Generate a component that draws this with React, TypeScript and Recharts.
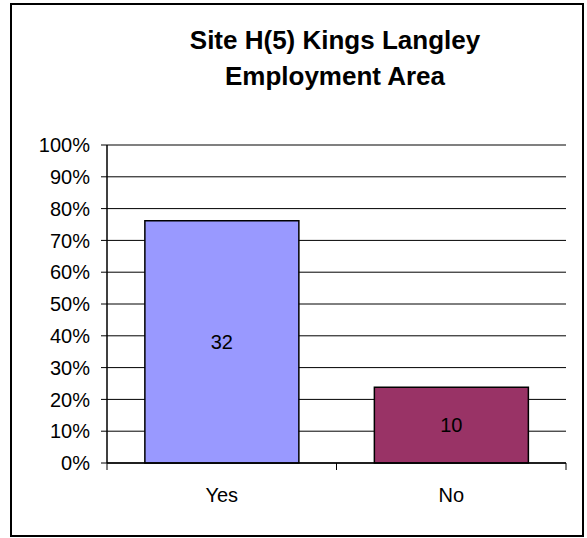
import React from 'react';
import {
  BarChart,
  Bar,
  XAxis,
  YAxis,
  CartesianGrid,
  ReferenceLine,
  LabelList,
  Cell,
} from 'recharts';

const categories = ['Yes', 'No'];
const counts = [32, 10];
const barColors = ['#9999FF', '#993366'];
const yTicks = [0, 0.1, 0.2, 0.3, 0.4, 0.5, 0.6, 0.7, 0.8, 0.9, 1];

const total = counts.reduce((a, b) => a + b, 0);
const data = categories.map((name, i) => ({
  name,
  count: counts[i],
  share: counts[i] / total,
}));

const FONT = '"Liberation Sans", Arial, sans-serif';

const CategoryTick = (props: any) => {
  const { x, y, payload, index, visibleTicksCount } = props;
  const half = payload && payload.offset ? payload.offset : 229.5 / 2;
  const last = index === (visibleTicksCount ?? categories.length) - 1;
  return (
    <g>
      <line x1={x - half} x2={x - half} y1={y} y2={y + 7} stroke="#000" />
      {last && <line x1={x + half} x2={x + half} y1={y} y2={y + 7} stroke="#000" />}
      <text
        x={x}
        y={y + 32}
        textAnchor="middle"
        dominantBaseline="central"
        fontSize={20}
        fontFamily={FONT}
        fill="#000"
      >
        {payload.value}
      </text>
    </g>
  );
};

export default function App() {
  return (
    <div style={{ position: 'absolute', left: 0, top: 0, width: 587, height: 538, background: '#fff' }}>
      <div
        style={{
          position: 'absolute',
          left: 10,
          top: 3,
          width: 574,
          height: 534,
          border: '2px solid #000',
          boxSizing: 'border-box',
        }}
      />
      <div
        style={{
          position: 'absolute',
          left: 135,
          top: 22,
          width: 400,
          textAlign: 'center',
          fontFamily: FONT,
          fontWeight: 'bold',
          fontSize: 26,
          lineHeight: '36px',
          color: '#000',
        }}
      >
        Site H(5) Kings Langley
        <br />
        Employment Area
      </div>
      <div style={{ position: 'absolute', left: 0, top: 0 }}>
        <BarChart
          width={587}
          height={538}
          data={data}
          margin={{ top: 145, right: 21, left: 0, bottom: 25 }}
          barCategoryGap="16.5%"
        >
          <CartesianGrid vertical={false} stroke="#000" strokeWidth={1} />
          <XAxis
            dataKey="name"
            axisLine={{ stroke: '#000', strokeWidth: 1.5 }}
            tickLine={false}
            tickSize={0}
            tickMargin={0}
            height={50}
            tick={<CategoryTick />}
            interval={0}
          />
          <YAxis
            domain={[0, 1]}
            ticks={yTicks}
            tickFormatter={(v: number) => `${Math.round(v * 100)}%`}
            width={107}
            tickSize={6}
            tickMargin={11}
            axisLine={{ stroke: '#000', strokeWidth: 1.5 }}
            tickLine={{ stroke: '#000' }}
            tick={{ fontSize: 20, fontFamily: FONT, fill: '#000' }}
            interval={0}
          />
          <YAxis
            yAxisId="frame"
            orientation="right"
            domain={[0, 1]}
            width={0}
            tick={false}
            tickLine={false}
            axisLine={{ stroke: '#808080', strokeWidth: 1.5 }}
          />
          <ReferenceLine y={1} stroke="#808080" strokeWidth={1.5} />
          <Bar dataKey="share" stroke="#000" strokeWidth={1.5} isAnimationActive={false}>
            {data.map((d, i) => (
              <Cell key={d.name} fill={barColors[i]} />
            ))}
            <LabelList
              dataKey="count"
              position="center"
              fill="#000"
              fontSize={20}
              fontFamily={FONT}
            />
          </Bar>
        </BarChart>
      </div>
    </div>
  );
}
